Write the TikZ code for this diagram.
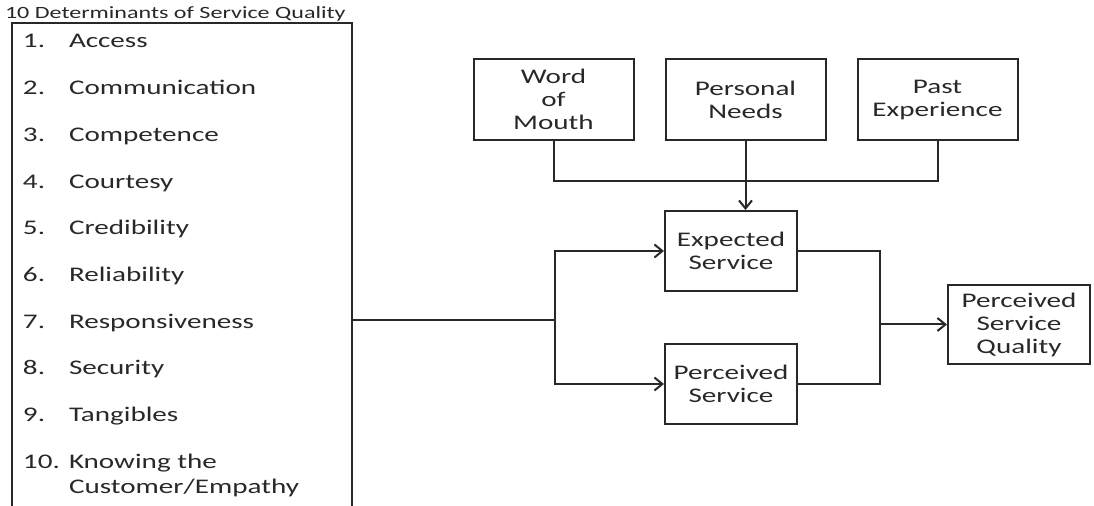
\documentclass[tikz,border=0pt]{standalone}
\usepackage{fontspec}
\setmainfont[FakeStretch=1.4]{Carlito}
\usetikzlibrary{arrows.meta, positioning}
\definecolor{inkgray}{RGB}{40,40,40}
\newcommand{\titletextfont}{\fontsize{8.6pt}{10pt}\selectfont}
\newcommand{\itemtextfont}{\fontsize{10.4pt}{13pt}\selectfont}
\newcommand{\boxtextfont}{\fontsize{10.4pt}{11.5pt}\selectfont}
\tikzset{
  box/.style={draw=inkgray, line width=1pt, align=center, inner sep=2pt,
    text=inkgray, font=\boxtextfont},
  topbox/.style={box, minimum width=80pt, minimum height=40.5pt},
  midbox/.style={box, minimum width=66pt, minimum height=40pt},
  listitem/.style={anchor=base west, inner sep=0pt, text=inkgray, font=\itemtextfont}
}

\begin{document}
\begin{tikzpicture}[x=0.5pt, y=-0.5pt, line width=1pt, draw=inkgray,
    >={Straight Barb[length=4pt,width=6.5pt]}]
		\useasboundingbox (0,0) rectangle (1094,506);

		\node[anchor=west, inner sep=0pt, text=inkgray, font=\titletextfont] (title) at (4,14) {10 Determinants of Service Quality};
		\draw[line width=1.3pt] (12,506) -- (12,23) -- (352,23) -- (352,506);
		\foreach \n/\txt in {1/Access, 2/Communication, 3/Competence, 4/Courtesy,
		    5/Credibility, 6/Reliability, 7/Responsiveness, 8/Security,
		    9/Tangibles, 10/Knowing the} {
			\node[listitem] (num\n) at (22, {48+(\n-1)*46.7}) {\n.};
			\node[listitem] (item\n) at (68, {48+(\n-1)*46.7}) {\txt};
		}
		\node[listitem] (item10b) at (68,494) {Customer/Empathy};

		\draw (553.5,99.5) node[topbox] (wom) {Word\\of\\Mouth}
		(745.5,99.5) node[topbox] (pn) {Personal\\Needs}
		(937.5,100) node[topbox] (pe) {Past\\Experience}
		(731,251) node[midbox] (es) {Expected\\Service}
		(731,384) node[midbox] (ps) {Perceived\\Service}
		(1019,324.5) node[box, minimum width=71pt, minimum height=39.5pt] (psq) {Perceived\\Service\\Quality};

		\coordinate (join) at (745.5,181);
		\coordinate (listout) at (352,320);
		\coordinate (split) at (555,320);
		\coordinate (gather) at (880,324.5);

		\draw (wom.south) |- (join) -| (pe.south);
		\draw[->] (pn.south) -- (pn.south |- es.north);
		\draw (listout) -- (split);
		\draw[->] (split) |- (es.west);
		\draw[->] (split) |- (ps.west);
		\draw (es.east) -| (gather);
		\draw (ps.east) -| (gather);
		\draw[->] (gather) -- (psq.west);
	\end{tikzpicture}
\end{document}
